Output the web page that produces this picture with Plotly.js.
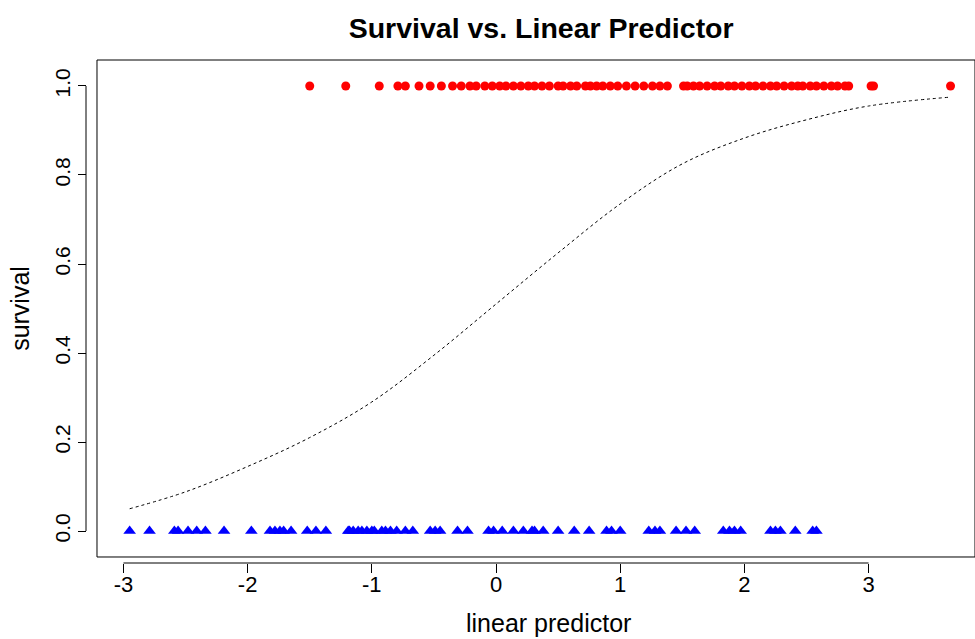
<!DOCTYPE html>
<html>
<head>
<meta charset="utf-8">
<script src="https://cdn.plot.ly/plotly-3.0.1.min.js"></script>
<style>html,body{margin:0;padding:0;background:#fff;}#chart{width:975px;height:639px;}</style>
</head>
<body>
<div id="chart"></div>
<script>
// Survived (survival = 1): linear predictor values
var survivedLP = [-1.50, -1.21, -0.94, -0.79, -0.73, -0.62, -0.53, -0.44,
  -0.35, -0.28, -0.21, -0.16, -0.09, -0.03, 0.03, 0.08,
  0.14, 0.20, 0.26, 0.31, 0.37, 0.43, 0.50,
  0.54, 0.60, 0.65, 0.72, 0.76, 0.81, 0.86, 0.92, 0.98, 1.05, 1.12, 1.19, 1.26, 1.32, 1.38,
  1.51, 1.54, 1.59, 1.64, 1.70, 1.76, 1.81, 1.87, 1.92, 1.98, 2.04, 2.09, 2.15, 2.21, 2.26,
  2.32, 2.38, 2.43, 2.47, 2.53, 2.58, 2.64, 2.70, 2.75, 2.81, 2.84,
  3.02, 3.04, 3.66];
var survivedY = survivedLP.map(function(){ return 1; });

// Died (survival = 0): linear predictor values
var diedLP = [-2.95, -2.79, -2.59, -2.56, -2.48, -2.41, -2.34, -2.19, -1.97, -1.82, -1.78, -1.74,
  -1.71, -1.65, -1.52, -1.45, -1.37, -1.19,
  -1.18, -1.15, -1.11, -1.08, -1.04, -1.00, -0.98, -0.92, -0.89, -0.85, -0.80, -0.73, -0.67,
  -0.53, -0.49, -0.45, -0.31, -0.23, -0.06, -0.02, 0.05, 0.14, 0.22, 0.29, 0.31, 0.38,
  0.50, 0.63, 0.75, 0.89, 0.93, 1.00, 1.23, 1.28, 1.32, 1.45, 1.53, 1.60,
  1.83, 1.88, 1.92, 1.97, 2.21, 2.25, 2.29, 2.41, 2.55, 2.58];
var diedY = diedLP.map(function(){ return 0; });

// Fitted curve
var curveX = [-2.95, -2.5, -2.0, -1.5, -1.0, -0.5, 0.0, 0.5, 1.0, 1.5, 2.0, 2.5, 3.0, 3.66];
var curveY = [0.050, 0.088, 0.145, 0.210, 0.290, 0.395, 0.510, 0.625, 0.735, 0.825, 0.883, 0.924, 0.955, 0.975];

var xTicks = [-3, -2, -1, 0, 1, 2, 3];
var yTicks = [0.0, 0.2, 0.4, 0.6, 0.8, 1.0];
var yTickText = ['0.0', '0.2', '0.4', '0.6', '0.8', '1.0'];

var FONT = 'Liberation Sans, Arial, sans-serif';

var traces = [
  {x: curveX, y: curveY, mode: 'lines', line: {color: '#000', width: 1, dash: 'dot', shape: 'spline'}, hoverinfo: 'skip'},
  {x: survivedLP, y: survivedY, mode: 'markers', marker: {symbol: 'circle', color: '#ff0000', size: 9, line: {width: 0}}},
  {x: diedLP, y: diedY, mode: 'markers', marker: {symbol: 'triangle-up', color: '#0000ff', size: 11, line: {width: 0}}}
];

var layout = {
  width: 975, height: 639,
  margin: {l: 86, r: 0, t: 60, b: 76},
  paper_bgcolor: '#fff', plot_bgcolor: '#fff',
  showlegend: false,
  font: {family: FONT, color: '#000', size: 21},
  title: {text: '<b>Survival vs. Linear Predictor</b>', font: {family: FONT, size: 28.5, color: '#000'},
          x: 0.512, xref: 'paper', xanchor: 'center', y: 0.956, yref: 'container', yanchor: 'middle'},
  xaxis: {
    domain: [0.01237, 1],
    anchor: 'free', position: 0,
    range: [-3.213, 3.857],
    tickvals: xTicks, ticktext: xTicks.map(String),
    ticks: 'outside', ticklen: 9, tickwidth: 1, tickcolor: '#000',
    ticklabelstandoff: -7,
    showline: false, zeroline: false, showgrid: false,
    tickfont: {family: FONT, size: 22}
  },
  yaxis: {
    domain: [0.01193, 1],
    anchor: 'free', position: 0,
    range: [-0.0584, 1.0584],
    tickvals: yTicks, ticktext: yTickText,
    ticks: 'outside', ticklen: 8, tickwidth: 1, tickcolor: '#000',
    tickangle: -90,
    showline: false, zeroline: false, showgrid: false,
    tickfont: {family: FONT, size: 21},
    title: {text: 'survival', font: {family: FONT, size: 25}, standoff: 12}
  },
  annotations: [
    {text: 'linear predictor', xref: 'paper', yref: 'paper', x: 0.52, y: -0.119,
     xanchor: 'center', yanchor: 'middle', showarrow: false, font: {family: FONT, size: 25, color: '#000'}}
  ],
  shapes: [
    {type: 'rect', xref: 'x domain', yref: 'y domain', x0: 0, x1: 1, y0: 0, y1: 1, line: {color: '#000', width: 1}},
    {type: 'line', xref: 'paper', yref: 'y', x0: 0, x1: 0, y0: 0, y1: 1, line: {color: '#000', width: 1}},
    {type: 'line', xref: 'x', yref: 'paper', x0: -3, x1: 3, y0: 0, y1: 0, line: {color: '#000', width: 1}}
  ]
};

Plotly.newPlot('chart', traces, layout, {staticPlot: true, displayModeBar: false});
</script>
</body>
</html>
